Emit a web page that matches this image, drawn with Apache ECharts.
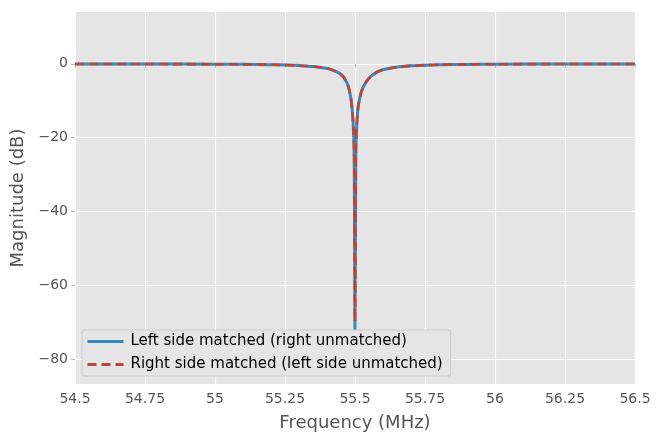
<!DOCTYPE html>
<html>
<head>
<meta charset="utf-8">
<script src="https://cdn.jsdelivr.net/npm/echarts@6/dist/echarts.min.js"></script>
<style>
  html, body { margin: 0; padding: 0; background: #fff; }
  #chart { width: 664px; height: 443px; }
</style>
</head>
<body>
<div id="chart"></div>
<script>
// frequency (MHz) and magnitude (dB)
var freq = [54.5, 54.75, 55.0, 55.1, 55.2, 55.25, 55.3, 55.35, 55.4, 55.42, 55.44, 55.45, 55.46,
            55.47, 55.475, 55.48, 55.485, 55.49, 55.494, 55.497, 55.5,
            55.503, 55.506, 55.51, 55.515, 55.52, 55.525, 55.53, 55.54, 55.55, 55.56,
            55.58, 55.6, 55.65, 55.7, 55.75, 55.8, 55.9, 56.0, 56.25, 56.5];
var leftMatched = [-0.05, -0.07, -0.12, -0.16, -0.26, -0.35, -0.5, -0.75, -1.3, -1.7, -2.4, -2.9, -3.7,
                   -5.0, -5.9, -7.3, -9.2, -12.5, -17, -24, -72,
                   -24, -17, -12.5, -10, -8.3, -7.1, -6.2, -4.9, -3.9, -3.2,
                   -2.2, -1.6, -0.9, -0.55, -0.38, -0.28, -0.18, -0.12, -0.07, -0.05];
var rightMatched = [-0.05, -0.07, -0.12, -0.16, -0.26, -0.35, -0.5, -0.75, -1.3, -1.7, -2.4, -2.9, -3.7,
                    -5.0, -5.9, -7.3, -9.2, -12.5, -17, -24, -69.7,
                    -24, -17, -12.5, -10, -8.3, -7.1, -6.2, -4.9, -3.9, -3.2,
                    -2.2, -1.6, -0.9, -0.55, -0.38, -0.28, -0.18, -0.12, -0.07, -0.05];
var seriesNames = ['Left side matched (right unmatched)', 'Right side matched (left side unmatched)'];
var yTicks = [-80, -60, -40, -20, 0];

function pairs(xs, ys) {
    return xs.map(function (x, i) { return [x, ys[i]]; });
}
function fmt(v) {
    return String(v).replace('-', '\u2212');
}

var myChart = echarts.init(document.getElementById('chart'));
var option = {
    animation: false,
    textStyle: { fontFamily: 'DejaVu Sans' },
    grid: {
        left: 75, right: 29, top: 12, bottom: 59,
        outerBoundsMode: 'none',
        containLabel: false,
        show: true,
        backgroundColor: '#e5e5e5',
        borderWidth: 0
    },
    legend: {
        orient: 'vertical',
        left: 82,
        top: 330,
        padding: [4, 8, 4, 4],
        itemWidth: 36,
        itemHeight: 14,
        itemGap: 8,
        backgroundColor: '#e5e5e5',
        borderColor: '#cccccc',
        borderWidth: 1,
        borderRadius: 2,
        itemStyle: { opacity: 0 },
        lineStyle: { width: 3 },
        textStyle: { fontSize: 15, color: '#000', fontFamily: 'DejaVu Sans', padding: [0, 0, 0, 2] },
        data: seriesNames
    },
    xAxis: {
        type: 'value',
        min: 54.5,
        max: 56.5,
        interval: 0.25,
        name: 'Frequency (MHz)',
        nameLocation: 'middle',
        nameGap: 30,
        nameTextStyle: { fontSize: 18, color: '#555' },
        axisLine: { show: false },
        axisTick: { show: true, length: 4, lineStyle: { color: '#bbb' } },
        axisLabel: { fontSize: 14, color: '#555', margin: 8, formatter: fmt },
        splitLine: { show: true, lineStyle: { color: '#fff', width: 1.2 } }
    },
    yAxis: {
        type: 'value',
        min: -86.6,
        max: 14,
        name: 'Magnitude (dB)',
        nameLocation: 'middle',
        nameGap: 46,
        nameTextStyle: { fontSize: 18, color: '#555' },
        axisLine: { show: false },
        axisTick: { show: true, length: 4, lineStyle: { color: '#bbb' }, customValues: yTicks },
        axisLabel: { fontSize: 14, color: '#555', margin: 7, formatter: fmt, customValues: yTicks },
        splitLine: { show: true, lineStyle: { color: '#fff', width: 1.2 }, customValues: yTicks }
    },
    series: [
        {
            name: seriesNames[0],
            type: 'line',
            symbol: 'none',
            smooth: 0.3,
            data: pairs(freq, leftMatched),
            lineStyle: { color: '#348abd', width: 3 },
            itemStyle: { color: '#348abd' }
        },
        {
            name: seriesNames[1],
            type: 'line',
            symbol: 'none',
            smooth: 0.3,
            data: pairs(freq, rightMatched),
            lineStyle: { color: '#bf4538', width: 2.6, type: [9, 5] },
            itemStyle: { color: '#bf4538' }
        }
    ]
};
myChart.setOption(option);
</script>
</body>
</html>
